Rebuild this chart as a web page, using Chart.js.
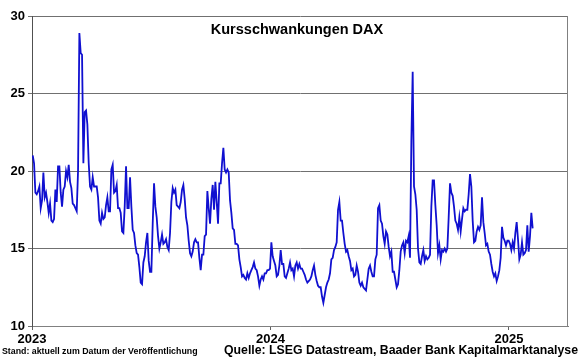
<!DOCTYPE html>
<html lang="de">
<head>
<meta charset="utf-8">
<title>Kursschwankungen DAX</title>
<script src="https://cdn.jsdelivr.net/npm/chart.js@4.4.0/dist/chart.umd.min.js"></script>
<style>
    html, body { margin: 0; padding: 0; background: #ffffff; }
    #chart { display: block; }
</style>
</head>
<body>
<canvas id="chart" width="580" height="359"></canvas>
<script>
const firstSample = 2023.003;   // erster Wert, als Jahreszahl
const sampleStep = 0.00559;     // Abstand zwischen zwei Werten (ca. 2 Tage)

const vola2023a = [
    21.0, 20.5, 18.6, 18.5, 18.7, 19.0, 17.6, 18.1, 19.9, 18.3,
    18.6, 18.0, 17.3, 17.9, 16.8, 16.7, 16.9, 18.8, 18.0, 20.3,
    20.3, 18.6, 17.7, 18.8, 19.0, 20.0, 19.6, 20.4, 19.3, 18.9,
    17.9, 17.8, 17.6, 17.4, 20.0, 28.9, 27.6, 27.5, 20.5, 23.8,
    23.9, 23.0, 20.5, 19.0, 18.8, 19.6, 19.0, 19.0, 19.0, 18.3,
    16.8, 16.6, 17.3, 16.9
];
const vola2023b = [
    17.0, 17.8, 18.3, 17.4, 17.4, 20.1, 20.4, 18.6, 18.7, 19.1,
    17.6, 17.6, 17.3, 16.1, 16.0, 17.7, 20.3, 17.6, 17.6, 19.6,
    17.7, 16.2, 16.0, 15.2, 14.7, 14.6, 13.8, 12.8, 12.7, 14.1,
    14.5, 15.4, 16.0, 14.2, 13.5, 13.5, 16.6, 19.2, 17.7, 17.0,
    15.8, 15.0, 15.4, 15.9, 15.3, 15.4, 15.6, 15.1, 14.9, 16.0,
    18.0, 18.9, 18.6, 18.8
];
const vola2023c = [
    17.8, 17.7, 17.6, 18.0, 18.8, 19.1, 18.2, 17.0, 16.5, 15.5,
    14.7, 14.5, 14.8, 15.4, 15.6, 15.4, 15.4, 14.4, 13.6, 14.6,
    14.6, 15.8, 15.9, 18.7, 17.6, 16.6, 18.2, 19.1, 17.5, 19.3,
    18.0, 16.6, 19.2, 19.2, 20.5, 21.5, 20.1, 19.9, 20.1, 19.9,
    18.1, 17.3, 16.3, 16.2, 15.3, 15.3, 15.2, 14.3, 13.8, 13.2,
    13.3, 13.1, 13.0, 13.4
];
const vola2024a = [
    13.1, 13.4, 13.6, 13.8, 14.1, 13.7, 13.6, 13.2, 12.6, 13.0,
    13.2, 13.0, 13.4, 13.4, 13.6, 13.6, 13.7, 15.4, 14.5, 14.2,
    13.9, 13.2, 13.3, 13.9, 14.9, 14.0, 14.0, 13.2, 13.1, 13.4,
    13.7, 14.1, 13.6, 13.7, 13.2, 13.9, 14.1, 13.7, 14.0, 13.7,
    13.7, 13.5, 13.3, 13.0, 12.8, 12.9, 13.0, 13.2, 13.6, 13.9,
    13.3, 12.9, 12.6, 12.5
];
const vola2024b = [
    12.5, 11.9, 11.5, 12.0, 12.5, 12.8, 13.0, 13.4, 14.3, 14.4,
    14.9, 15.1, 15.4, 17.5, 18.0, 16.8, 16.8, 16.0, 15.3, 14.8,
    14.9, 14.5, 14.2, 13.6, 13.7, 13.2, 13.3, 13.9, 13.5, 12.8,
    12.6, 12.8, 12.5, 12.4, 12.3, 13.0, 13.7, 13.9, 13.5, 13.2,
    13.2, 14.3, 14.6, 17.6, 17.8, 16.8, 16.6, 15.8, 15.3, 16.1,
    15.9, 15.1, 14.5, 14.8
];
const vola2024c = [
    13.5, 13.5, 13.0, 12.5, 12.7, 13.6, 14.8, 15.2, 15.4, 14.7,
    15.5, 15.4, 15.8, 14.4, 21.9, 26.4, 19.0, 18.5, 17.5, 15.0,
    14.1, 14.0, 14.5, 14.9, 14.2, 14.5, 14.3, 14.4, 14.6, 17.7,
    19.4, 19.4, 17.8, 16.5, 14.7, 15.2, 14.3, 14.9, 14.8, 15.0,
    14.8, 15.0, 17.0, 19.2, 18.6, 18.4, 17.7, 16.8, 16.6, 16.2,
    17.0, 16.1, 16.9, 17.6
];
const vola2025 = [
    17.4, 17.5, 17.5, 18.5, 19.8, 19.0, 16.8, 15.4, 15.5, 16.1,
    16.4, 16.2, 16.5, 18.3, 16.7, 16.0, 15.2, 15.3, 14.8, 14.6,
    14.0, 13.5, 13.2, 13.4, 12.9, 13.2, 13.6, 14.4, 16.4, 15.7,
    15.5, 15.2, 15.5, 15.5, 15.3, 14.9, 15.4, 15.0, 16.0, 16.7,
    15.6, 14.3, 14.6, 15.4, 14.6, 14.7, 14.9, 16.5, 14.8, 15.8,
    17.3, 16.3
];

const yearTicks = [2023, 2024, 2025];
const yTicks = [10, 15, 20, 25, 30];

const chartTitle = 'Kursschwankungen DAX';
const footLeft = 'Stand: aktuell zum Datum der Veröffentlichung';
const footRight = 'Quelle: LSEG Datastream, Baader Bank Kapitalmarktanalyse';

const allValues = [].concat(vola2023a, vola2023b, vola2023c, vola2024a, vola2024b, vola2024c, vola2025);
const points = allValues.map((v, i) => ({ x: firstSample + i * sampleStep, y: v }));

const FONT = '"Liberation Sans", Arial, sans-serif';

// Titel im Diagramm, Rahmen und Fußzeilen
const decorations = {
    id: 'decorations',
    afterDraw(chart) {
        const ctx = chart.ctx;
        const area = chart.chartArea;
        ctx.save();
        ctx.strokeStyle = '#808080';
        ctx.lineWidth = 1;
        ctx.beginPath();
        ctx.moveTo(area.right - 0.5, area.top);
        ctx.lineTo(area.right - 0.5, area.bottom);
        ctx.stroke();

        ctx.fillStyle = '#000000';
        ctx.textBaseline = 'middle';
        ctx.textAlign = 'center';
        ctx.font = 'bold 14.5px ' + FONT;
        ctx.fillText(chartTitle, 297, 30);

        ctx.textAlign = 'left';
        ctx.font = 'bold 8.8px ' + FONT;
        ctx.fillText(footLeft, 2, 352);

        ctx.textAlign = 'right';
        ctx.font = 'bold 12.3px ' + FONT;
        ctx.fillText(footRight, 578, 351);
        ctx.restore();
    }
};

new Chart(document.getElementById('chart'), {
    type: 'line',
    data: {
        datasets: [{
            label: 'VDAX',
            data: points,
            borderColor: '#1010d0',
            borderWidth: 1.8,
            pointRadius: 0,
            tension: 0,
            fill: false
        }]
    },
    options: {
        responsive: false,
        animation: false,
        layout: { padding: { top: 16, right: 12, left: 0, bottom: 0 } },
        plugins: {
            legend: { display: false },
            title: { display: false },
            tooltip: { enabled: false }
        },
        scales: {
            x: {
                type: 'linear',
                min: 2023,
                max: 2023 + 536 / 238.5,
                afterBuildTicks: (scale) => { scale.ticks = yearTicks.map(v => ({ value: v })); },
                afterFit: (scale) => { scale.height = 33; },
                ticks: {
                    color: '#000000',
                    font: { family: FONT, size: 13, weight: 'bold' },
                    padding: 2,
                    maxRotation: 0,
                    callback: (v) => String(v)
                },
                grid: { drawOnChartArea: false, tickLength: 4, color: '#606060' },
                border: { color: '#808080' }
            },
            y: {
                min: 10,
                max: 30,
                afterBuildTicks: (scale) => { scale.ticks = yTicks.map(v => ({ value: v })); },
                afterFit: (scale) => { scale.width = 32; },
                ticks: {
                    color: '#000000',
                    font: { family: FONT, size: 13, weight: 'bold' },
                    padding: 3
                },
                grid: { color: '#707070', tickLength: 4 },
                border: { color: '#505050' }
            }
        }
    },
    plugins: [decorations]
});
</script>
</body>
</html>
